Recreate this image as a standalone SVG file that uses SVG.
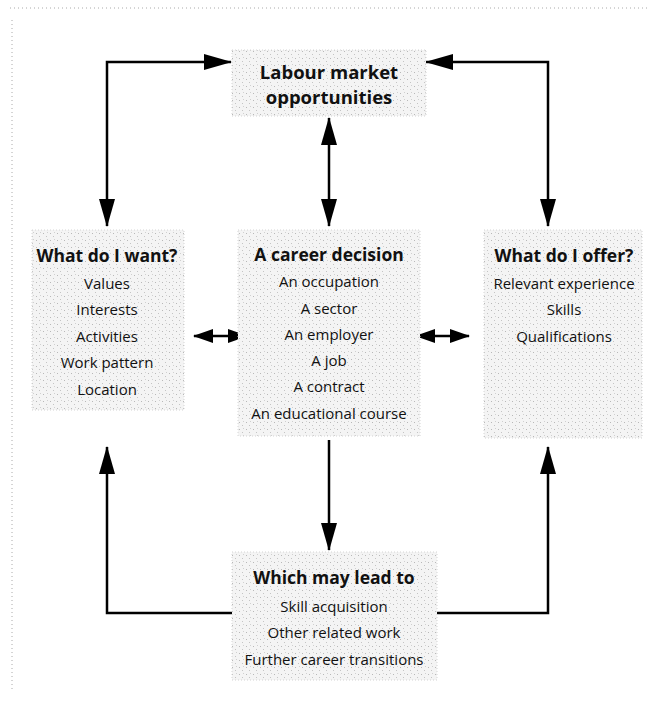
<svg xmlns="http://www.w3.org/2000/svg" width="656" height="701" viewBox="0 0 656 701">
<defs>
<pattern id="speck" width="7" height="7" patternUnits="userSpaceOnUse">
<rect width="7" height="7" fill="#f4f4f4"/>
<rect x="1" y="2" width="1" height="1" fill="#b8b8b8"/>
<rect x="4" y="5" width="1" height="1" fill="#c4c4c4"/>
<rect x="5" y="1" width="1" height="1" fill="#d0d0d0"/>
</pattern>
<marker id="ah" markerUnits="userSpaceOnUse" markerWidth="28" markerHeight="16" refX="27" refY="8" orient="auto-start-reverse">
<path d="M0,0 L28,8 L0,16 z" fill="#000"/>
</marker>
<marker id="ahs" markerUnits="userSpaceOnUse" markerWidth="20" markerHeight="14" refX="19" refY="7" orient="auto-start-reverse">
<path d="M0,0 L20,7 L0,14 z" fill="#000"/>
</marker>
</defs>
<style>
.box{fill:url(#speck);stroke:#d4d4d4;stroke-width:1;stroke-dasharray:1 2}
.t{font-family:"Open Sans","Noto Sans","Liberation Sans",sans-serif;font-size:15px;fill:#111;text-anchor:middle}
.b{font-weight:bold;font-size:17.5px}
.bt{font-weight:bold;font-size:18.5px}
.c{fill:none;stroke:#000;stroke-width:2.5}
.frame{fill:none;stroke:#aaa;stroke-width:1;stroke-dasharray:1 3}
</style>
<rect width="656" height="701" fill="#fff"/>
<g id="frame">
<line class="frame" x1="10" y1="8" x2="650" y2="8"/>
<line class="frame" x1="12" y1="20" x2="12" y2="690"/>
</g>
<g id="connectors">
<path class="c" d="M107,226 V62 H231" marker-start="url(#ah)" marker-end="url(#ah)"/>
<path class="c" d="M426,62 H548 V226" marker-start="url(#ah)" marker-end="url(#ah)"/>
<path class="c" d="M329,118 V226" marker-start="url(#ah)" marker-end="url(#ah)"/>
<path class="c" d="M194,336 H247" marker-start="url(#ahs)" marker-end="url(#ahs)"/>
<path class="c" d="M416,336 H469" marker-start="url(#ahs)" marker-end="url(#ahs)"/>
<path class="c" d="M329,440 V550" marker-end="url(#ah)"/>
<path class="c" d="M232,613 H107 V447" marker-end="url(#ah)"/>
<path class="c" d="M437,613 H548 V447" marker-end="url(#ah)"/>
</g>
<g id="labour">
<rect class="box" x="232" y="50" width="194" height="66"/>
<text class="t bt" x="329" y="79">Labour market</text>
<text class="t bt" x="329" y="104">opportunities</text>
</g>
<g id="want">
<rect class="box" x="32" y="230" width="152" height="180"/>
<text class="t b" x="107" y="262">What do I want?</text>
<text class="t" x="107" y="289">Values</text>
<text class="t" x="107" y="315">Interests</text>
<text class="t" x="107" y="342">Activities</text>
<text class="t" x="107" y="368">Work pattern</text>
<text class="t" x="107" y="395">Location</text>
</g>
<g id="decision">
<rect class="box" x="238" y="230" width="182" height="206"/>
<text class="t b" x="329" y="261">A career decision</text>
<text class="t" x="329" y="287">An occupation</text>
<text class="t" x="329" y="314">A sector</text>
<text class="t" x="329" y="340">An employer</text>
<text class="t" x="329" y="366">A job</text>
<text class="t" x="329" y="392">A contract</text>
<text class="t" x="329" y="419">An educational course</text>
</g>
<g id="offer">
<rect class="box" x="484" y="230" width="158" height="208"/>
<text class="t b" x="564" y="262">What do I offer?</text>
<text class="t" x="564" y="289">Relevant experience</text>
<text class="t" x="564" y="315">Skills</text>
<text class="t" x="564" y="342">Qualifications</text>
</g>
<g id="lead">
<rect class="box" x="232" y="552" width="205" height="128"/>
<text class="t b" x="334" y="584">Which may lead to</text>
<text class="t" x="334" y="612">Skill acquisition</text>
<text class="t" x="334" y="638">Other related work</text>
<text class="t" x="334" y="665">Further career transitions</text>
</g>
</svg>
